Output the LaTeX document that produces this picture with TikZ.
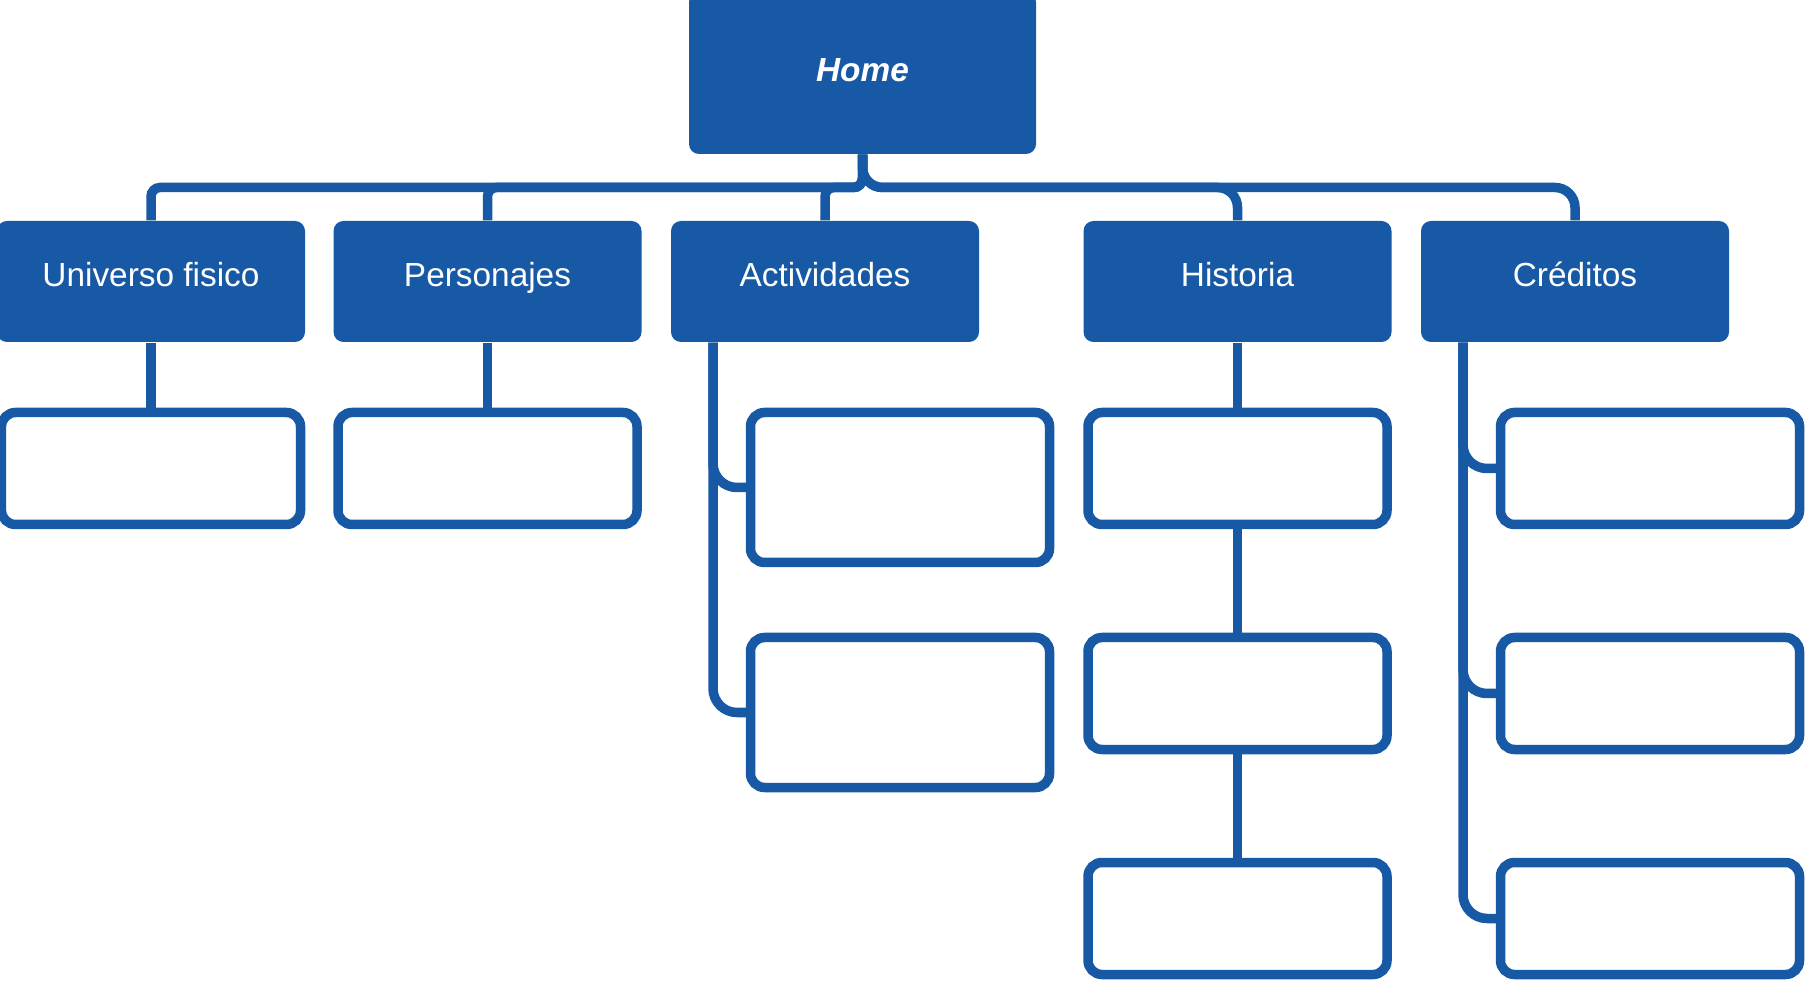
\documentclass[tikz,border=0pt]{standalone}
\usepackage{fontspec}
\setmainfont{Liberation Sans}[Ligatures=NoCommon]
\usepackage{tikz}
\usetikzlibrary{positioning}
\definecolor{siteblue}{HTML}{1759A5}

\begin{document}
\begin{tikzpicture}[font=\fontsize{9.5}{11}\selectfont,
		page/.style={fill=siteblue,text=white,rounded corners=0.1cm,minimum width=3.08cm,minimum height=1.21cm,inner sep=0pt,text height=0.11cm,text depth=0cm},
		sub/.style={draw=siteblue,line width=0.095cm,fill=white,rounded corners=0.14cm,minimum width=2.99cm,minimum height=1.12cm,inner sep=0pt},
		tall/.style={sub,minimum height=1.50cm},
		link/.style={draw=siteblue,line width=0.095cm}]
		\useasboundingbox (0,0) rectangle (18.13,-9.88);
		\node[page,minimum width=3.47cm,minimum height=1.62cm,text height=0.18cm] (home) at (8.625,-0.73) {\textbf{\textit{Home}}};
		\coordinate (bus) at (8.62,-1.875);

		\node[page] (uni)  at (1.51,-2.815)   {Universo fisico};
		\node[page] (pers) at (4.875,-2.815)  {Personajes};
		\node[page] (act)  at (8.25,-2.815)   {Actividades};
		\node[page] (hist) at (12.375,-2.815) {Historia};
		\node[page] (cred) at (15.75,-2.815)  {Créditos};

		\node[sub]  (uni1)  at (1.51,-4.685)   {};
		\node[sub]  (pers1) at (4.875,-4.685)  {};
		\node[tall] (act1)  at (9.0,-4.875)    {};
		\node[tall] (act2)  at (9.0,-7.125)    {};
		\node[sub]  (hist1) at (12.375,-4.685) {};
		\node[sub]  (hist2) at (12.375,-6.935) {};
		\node[sub]  (hist3) at (12.375,-9.185) {};
		\node[sub]  (cred1) at (16.5,-4.685)   {};
		\node[sub]  (cred2) at (16.5,-6.935)   {};
		\node[sub]  (cred3) at (16.5,-9.185)   {};

		% home to the sections
		\foreach \s in {uni,pers,act}
			\draw[link,rounded corners=0.09cm] (home.south) -- (home.south |- bus) -| (\s.north);
		\foreach \s in {hist,cred}
			\draw[link,rounded corners=0.2cm] (home.south) -- (home.south |- bus) -| (\s.north);

		% sections to their pages
		\path[link] (uni.south) edge (uni1.north)
		            (pers.south) edge (pers1.north)
		            (hist.south) edge (hist1.north)
		            (hist1.south) edge (hist2.north)
		            (hist2.south) edge (hist3.north);
		\foreach \p in {act1,act2}
			\draw[link,rounded corners=0.24cm] ([xshift=-1.12cm]act.south) |- (\p.west);
		\foreach \p in {cred1,cred2,cred3}
			\draw[link,rounded corners=0.24cm] ([xshift=-1.12cm]cred.south) |- (\p.west);
	\end{tikzpicture}
\end{document}
